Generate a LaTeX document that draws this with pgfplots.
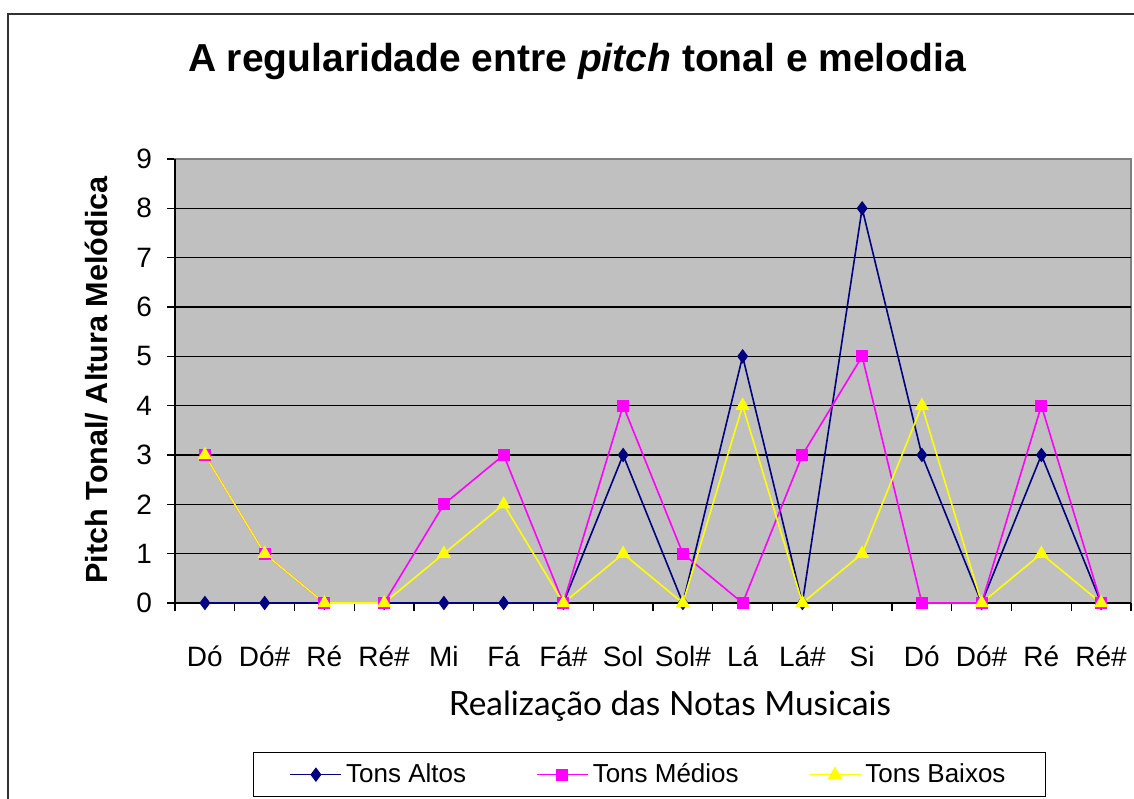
\documentclass[border=0pt]{standalone}
\usepackage{fontspec}
\setmainfont{Liberation Sans}
\newfontfamily\latofont{Lato}
\usepackage{pgfplots}
\pgfplotsset{compat=1.18}
\definecolor{plotgray}{HTML}{C0C0C0}
\definecolor{navy}{HTML}{000080}
\definecolor{mag}{HTML}{FF00FF}
\definecolor{yel}{HTML}{FFFF00}
\begin{document}
\begin{tikzpicture}[x=0.5pt,y=0.5pt]
\useasboundingbox (0,0) rectangle (1134,798);
\fill[white] (0,0) rectangle (1134,798);
\draw[line width=1pt, black!80] (8,-20) -- (8,784) -- (1160,784);
\node[font=\bfseries\fontsize{19.5}{22}\selectfont] at (577,736) {A regularidade entre \textit{pitch} tonal e melodia};
\node[rotate=90, font=\bfseries\fontsize{15.3}{18}\selectfont] at (97,418) {Pitch Tonal/ Altura Melódica};
\node[font=\latofont\fontsize{16.7}{20}\selectfont] at (670,92) {Realização das Notas Musicais};
\begin{axis}[at={(87.5pt,97.5pt)}, anchor=south west, scale only axis,
  width=478pt, height=222pt,
  xmin=0.5, xmax=16.5, ymin=0, ymax=9,
  axis background/.style={fill=plotgray},
  axis line style={gray, line width=0.6pt},
  xtick={0.5,1.5,...,15.5},
  xticklabels={Dó,Dó\#,Ré,Ré\#,Mi,Fá,Fá\#,Sol,Sol\#,Lá,Lá\#,Si,Dó,Dó\#,Ré,Ré\#},
  xticklabel style={xshift=14.94pt, anchor=base, yshift=-27.5pt},
  extra x ticks={16.5}, extra x tick labels={},
  ytick={0,...,9},
  extra y ticks={0,...,8}, extra y tick labels={},
  extra y tick style={grid=major},
  major grid style={black, line width=0.6pt},
  tick pos=left, tick align=outside,
  major tick length=4pt,
  every tick/.style={black, line width=0.6pt},
  tick label style={font=\fontsize{14}{16}\selectfont},
  /pgf/number format/assume math mode=true,
  yticklabel style={xshift=-4pt},
  clip=false,
  legend columns=3,
  legend style={at={(0.0816,-0.3356)}, anchor=north west, draw=black, line width=0.6pt,
    fill=white, inner xsep=18pt, inner ysep=3.5pt,
    font=\fontsize{13}{15}\selectfont,
    /tikz/every even column/.append style={column sep=33pt}},
  legend image code/.code={\draw[mark repeat=2, mark phase=2, #1] plot coordinates {(0pt,0pt) (12.75pt,0pt) (25.5pt,0pt)};},
]
\addplot[navy, line width=0.8pt, mark=diamond*, mark size=3pt, mark options={solid, fill=navy}]
 coordinates {(1,0) (2,0) (3,0) (4,0) (5,0) (6,0) (7,0) (8,3) (9,0) (10,5) (11,0) (12,8) (13,3) (14,0) (15,3) (16,0)};
\addlegendentry{Tons Altos}
\addplot[mag, line width=0.8pt, mark=square*, mark size=2.6pt, mark options={solid, fill=mag}]
 coordinates {(1,3) (2,1) (3,0) (4,0) (5,2) (6,3) (7,0) (8,4) (9,1) (10,0) (11,3) (12,5) (13,0) (14,0) (15,4) (16,0)};
\addlegendentry{Tons Médios}
\addplot[yel, line width=0.8pt, mark=triangle*, mark size=3.3pt, mark options={solid, fill=yel}]
 coordinates {(1,3) (2,1) (3,0) (4,0) (5,1) (6,2) (7,0) (8,1) (9,0) (10,4) (11,0) (12,1) (13,4) (14,0) (15,1) (16,0)};
\addlegendentry{Tons Baixos}
\draw[black, line width=0.6pt] (rel axis cs:0,0) -- (rel axis cs:0,1);
\end{axis}
\end{tikzpicture}
\end{document}
